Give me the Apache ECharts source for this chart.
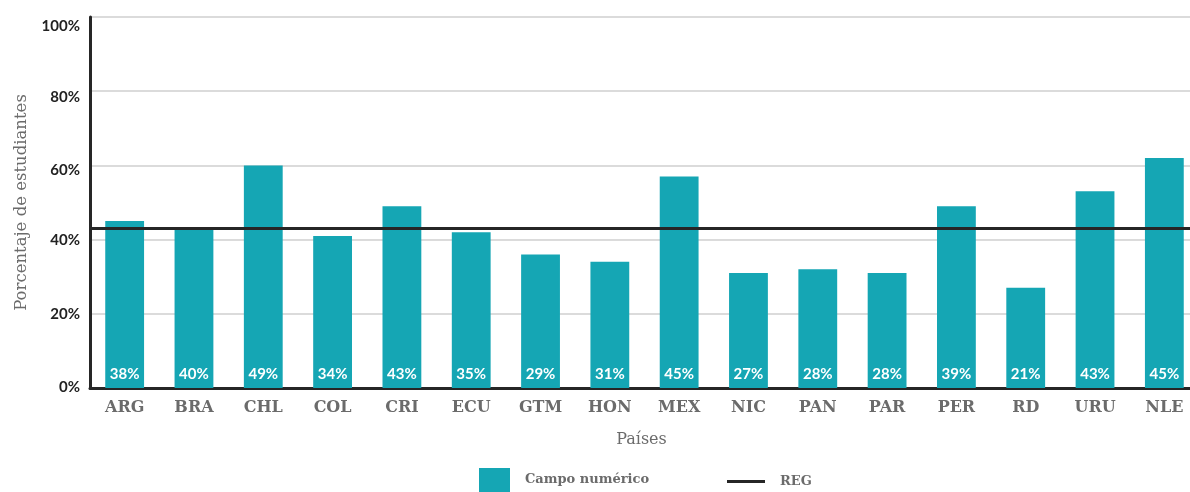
<!DOCTYPE html>
<html>
<head>
<meta charset="utf-8">
<script src="https://cdn.jsdelivr.net/npm/echarts@6/dist/echarts.min.js"></script>
<style>
  html, body { margin: 0; padding: 0; background: #ffffff; }
  #chart { width: 1190px; height: 492px; }
</style>
</head>
<body>
<div id="chart"></div>
<script>
// Countries on the horizontal axis
const countries = ['ARG', 'BRA', 'CHL', 'COL', 'CRI', 'ECU', 'GTM', 'HON', 'MEX', 'NIC', 'PAN', 'PAR', 'PER', 'RD', 'URU', 'NLE'];
// Bar heights: share of students (%)
const barValues = [45, 43, 60, 41, 49, 42, 36, 34, 57, 31, 32, 31, 49, 27, 53, 62];
// Figures printed at the foot of each bar (%)
const footLabels = [38, 40, 49, 34, 43, 35, 29, 31, 45, 27, 28, 28, 39, 21, 43, 45];
// Regional reference level (%)
const regValue = 43;
// Value-axis ticks
const yTicks = { min: 0, max: 100, step: 20 };

const TEAL = '#15a6b4';
const DARK = '#262626';
const GREY_TXT = '#6b6b6b';
const SERIF = '"DejaVu Serif", "Liberation Serif", serif';
const SANS = 'Lato, "Open Sans", "Noto Sans", sans-serif';

// The upper tick labels sit a little below their gridlines
const tickLabelRich = {
  t100: { padding: [18, 0, 0, 0] },
  t80: { padding: [12, 0, 0, 0] },
  t60: { padding: [10, 0, 0, 0] },
  t40: { padding: [2, 0, 0, 0] },
  t20: {},
  t0: { padding: [0, 0, 2, 0] }
};

const chart = echarts.init(document.getElementById('chart'), null, { renderer: 'canvas' });

chart.setOption({
  animation: false,
  backgroundColor: '#ffffff',
  // plot runs slightly past the right edge of the canvas
  grid: { left: 90, top: 17, bottom: 104, width: 1109, containLabel: false, outerBoundsMode: 'none' },
  legend: [
    {
      data: ['Campo numérico'],
      left: 479, top: 468,
      padding: 0,
      itemWidth: 31, itemHeight: 24,
      icon: 'rect',
      textStyle: { fontFamily: SERIF, fontSize: 13, fontWeight: 'bold', color: GREY_TXT, padding: [0, 0, 0, 10] }
    },
    {
      data: ['REG'],
      left: 727, top: 475,
      padding: 0,
      itemWidth: 38, itemHeight: 3,
      icon: 'rect',
      textStyle: { fontFamily: SERIF, fontSize: 13, fontWeight: 'bold', color: GREY_TXT, padding: [0, 0, 0, 10] }
    }
  ],
  xAxis: {
    type: 'category',
    data: countries,
    name: 'Países',
    nameLocation: 'middle',
    nameGap: 44,
    nameTextStyle: { fontFamily: SERIF, fontSize: 16, color: GREY_TXT, padding: [0, 6, 0, 0] },
    axisLine: { show: true, lineStyle: { color: DARK, width: 3 } },
    axisTick: { show: false },
    axisLabel: { margin: 12, fontFamily: SERIF, fontWeight: 'bold', fontSize: 16, color: GREY_TXT }
  },
  yAxis: {
    type: 'value',
    min: yTicks.min, max: yTicks.max, interval: yTicks.step,
    name: 'Porcentaje de estudiantes',
    nameLocation: 'middle',
    nameGap: 60,
    nameTextStyle: { fontFamily: SERIF, fontSize: 16.5, color: GREY_TXT },
    axisLine: { show: true, lineStyle: { color: DARK, width: 3 } },
    axisTick: { show: false },
    splitLine: { lineStyle: { color: '#cfcfcf', width: 1.5 } },
    axisLabel: {
      margin: 10,
      fontFamily: SANS, fontWeight: 'bold', fontSize: 15, color: '#222222',
      formatter: v => `{t${v}|${v}%}`,
      rich: tickLabelRich
    }
  },
  series: [
    {
      name: 'Campo numérico',
      type: 'bar',
      data: barValues,
      barWidth: '56%',
      itemStyle: { color: TEAL },
      label: {
        show: true,
        position: 'insideBottom',
        distance: 6,
        fontFamily: SANS, fontWeight: 'bold', fontSize: 15, color: '#ffffff',
        formatter: p => footLabels[p.dataIndex] + '%'
      },
      z: 2
    },
    {
      name: 'REG',
      type: 'line',
      data: [],
      itemStyle: { color: DARK },
      lineStyle: { color: DARK, width: 3 },
      markLine: {
        silent: true,
        symbol: 'none',
        label: { show: false },
        lineStyle: { color: DARK, width: 3, type: 'solid' },
        data: [{ yAxis: regValue }]
      },
      z: 5
    }
  ]
});
</script>
</body>
</html>
